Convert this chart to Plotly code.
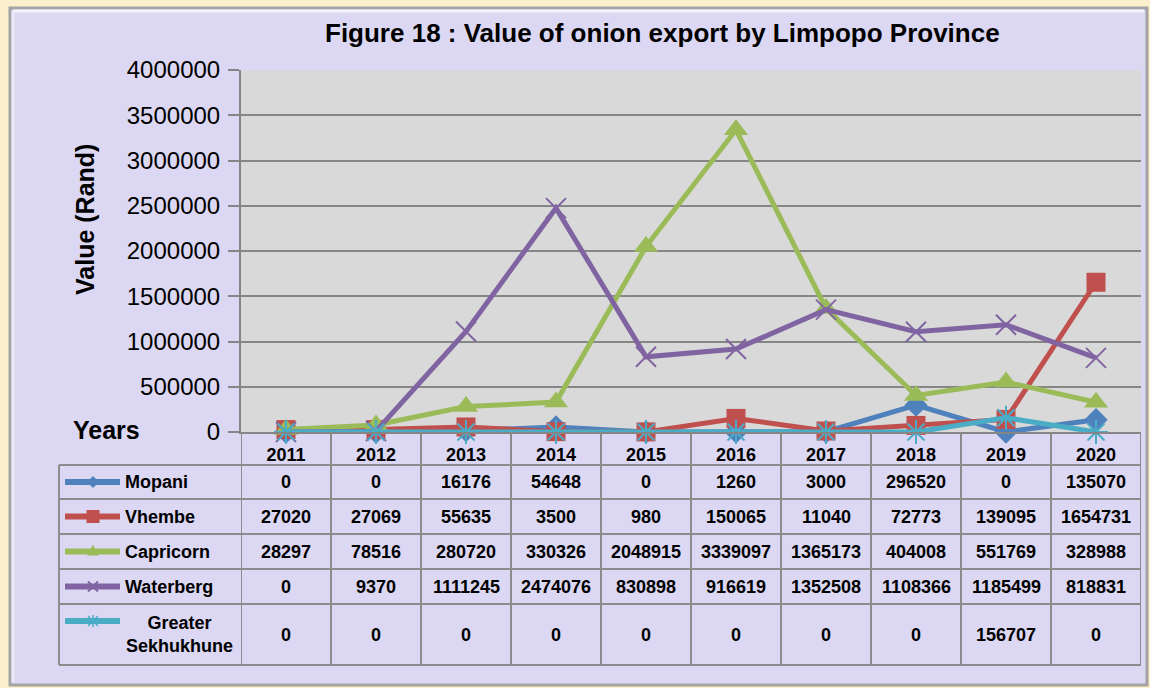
import plotly.graph_objects as go

# ---------------- data ----------------
years = ['2011', '2012', '2013', '2014', '2015', '2016', '2017', '2018', '2019', '2020']
mopani = [0, 0, 16176, 54648, 0, 1260, 3000, 296520, 0, 135070]
vhembe = [27020, 27069, 55635, 3500, 980, 150065, 11040, 72773, 139095, 1654731]
capricorn = [28297, 78516, 280720, 330326, 2048915, 3339097, 1365173, 404008, 551769, 328988]
waterberg = [0, 9370, 1111245, 2474076, 830898, 916619, 1352508, 1108366, 1185499, 818831]
sekhukhune = [0, 0, 0, 0, 0, 0, 0, 0, 156707, 0]
series_names = ['Mopani', 'Vhembe', 'Capricorn', 'Waterberg', 'Greater<br>Sekhukhune']
y_ticks = [0, 500000, 1000000, 1500000, 2000000, 2500000, 3000000, 3500000, 4000000]
title_text = 'Figure 18 : Value of onion export by Limpopo Province'

# ---------------- styles ----------------
series_values = [mopani, vhembe, capricorn, waterberg, sekhukhune]
colors = ['#4f81bd', '#c0504d', '#9bbb59', '#8064a2', '#4bacc6']
symbols = ['diamond', 'square', 'triangle-up', 'x-thin-open', 'asterisk-open']
sizes = [18, 19, 21, 20, 20]

W, H = 1150, 688
L, R, T, B = 241, 1141, 70, 432
PW, PH = R - L, B - T
YMAX = 4000000
FONT = 'Liberation Sans, Arial, sans-serif'
GRID = '#868686'
TABLE = '#8c8c8c'


def px(x):
    return (x - L) / PW


def py(y):
    return (B - y) / PH


def path(points, close=True):
    s = 'M ' + ' L '.join(f'{px(a):.5f},{py(b):.5f}' for a, b in points)
    return s + (' Z' if close else '')


fig = go.Figure()

xs = list(range(len(years)))
for name, vals, c, s, sz in zip(series_names, series_values, colors, symbols, sizes):
    open_sym = s.endswith('open')
    fig.add_trace(go.Scatter(
        x=xs, y=vals, mode='lines+markers', name=name.replace('<br>', ' '),
        line=dict(color=c, width=5),
        marker=dict(symbol=s, size=sz, color=c,
                    line=dict(color=c, width=2 if open_sym else 0)),
        showlegend=False, cliponaxis=False,
    ))

# table geometry (pixels)
header = (432, 465)
rows = [(465, 499), (499, 534), (534, 569), (569, 604), (604, 665)]
table_left = 59
key_x0, key_x1, key_xc = 65, 120, 93

shapes = []
# chart frame
shapes.append(dict(type='rect', xref='paper', yref='paper',
                   x0=px(10), x1=px(1147), y0=py(685), y1=py(8),
                   fillcolor='#dcd8f3', line=dict(color='#a3a3a3', width=3), layer='below'))
shapes.append(dict(type='line', xref='paper', yref='paper',
                   x0=px(13), x1=px(1144), y0=py(11), y1=py(11),
                   line=dict(color='#f4f2fc', width=3), layer='below'))
shapes.append(dict(type='line', xref='paper', yref='paper',
                   x0=px(13), x1=px(13), y0=py(11), y1=py(682),
                   line=dict(color='#ece9f9', width=3), layer='below'))
# plot area
shapes.append(dict(type='rect', xref='paper', yref='paper', x0=0, x1=1, y0=0, y1=1,
                   fillcolor='#d9d9d9', line=dict(width=0), layer='below'))
# table horizontal lines
for yy in [rows[0][0]] + [r[1] for r in rows]:
    shapes.append(dict(type='line', xref='paper', yref='paper',
                       x0=px(table_left), x1=px(R), y0=py(yy), y1=py(yy),
                       line=dict(color=TABLE, width=2), layer='above'))
# table vertical lines
shapes.append(dict(type='line', xref='paper', yref='paper',
                   x0=px(table_left), x1=px(table_left), y0=py(rows[0][0]), y1=py(rows[-1][1]),
                   line=dict(color=TABLE, width=2), layer='above'))
for k in range(len(years) + 1):
    shapes.append(dict(type='line', xref='x', yref='paper',
                       x0=k - 0.5, x1=k - 0.5, y0=py(header[0]), y1=py(rows[-1][1]),
                       line=dict(color=TABLE, width=2), layer='above'))


def key_marker(sym, cx, cy, c):
    """Legend-key glyph drawn as a paper-space shape around pixel centre (cx, cy)."""
    out = []
    if sym == 'diamond':
        r = 6
        out.append(dict(type='path', path=path([(cx, cy - r), (cx + r, cy), (cx, cy + r), (cx - r, cy)]),
                        fillcolor=c, line=dict(width=0)))
    elif sym == 'square':
        r = 6.5
        out.append(dict(type='path', path=path([(cx - r, cy - r), (cx + r, cy - r), (cx + r, cy + r), (cx - r, cy + r)]),
                        fillcolor=c, line=dict(width=0)))
    elif sym == 'triangle-up':
        r = 6
        out.append(dict(type='path', path=path([(cx, cy - r - 1), (cx + r, cy + r - 2), (cx - r, cy + r - 2)]),
                        fillcolor=c, line=dict(width=0)))
    elif sym == 'x-thin-open':
        r = 5
        out.append(dict(type='path', path=path([(cx - r, cy - r), (cx + r, cy + r)], close=False),
                        line=dict(color=c, width=2)))
        out.append(dict(type='path', path=path([(cx + r, cy - r), (cx - r, cy + r)], close=False),
                        line=dict(color=c, width=2)))
    else:  # asterisk
        r = 5
        for a, b in [((cx - r, cy - r), (cx + r, cy + r)), ((cx + r, cy - r), (cx - r, cy + r)),
                     ((cx, cy - r - 1), (cx, cy + r + 1))]:
            out.append(dict(type='path', path=path([a, b], close=False),
                            line=dict(color=c, width=1.5)))
    for o in out:
        o.update(xref='paper', yref='paper', layer='above')
    return out


annotations = []
# legend keys + labels + values
for i, (name, vals, c, s) in enumerate(zip(series_names, series_values, colors, symbols)):
    r0, r1 = rows[i]
    yc = (r0 + r1) / 2
    key_y = yc if i < 4 else 621
    shapes.append(dict(type='line', xref='paper', yref='paper',
                       x0=px(key_x0), x1=px(key_x1), y0=py(key_y), y1=py(key_y),
                       line=dict(color=c, width=6), layer='above'))
    shapes.extend(key_marker(s, key_xc, key_y, c))
    if i < 4:
        annotations.append(dict(xref='paper', yref='paper', x=px(123), y=py(yc),
                                xanchor='left', yanchor='middle', text=name, showarrow=False,
                                font=dict(family=FONT, size=18, color='black', weight='bold')))
    else:
        annotations.append(dict(xref='paper', yref='paper', x=px(179), y=py(yc),
                                xanchor='center', yanchor='middle', text=name, showarrow=False,
                                align='center',
                                font=dict(family=FONT, size=18, color='black', weight='bold')))
    for j, v in enumerate(vals):
        annotations.append(dict(xref='x', yref='paper', x=j, y=py(yc),
                                xanchor='center', yanchor='middle', text=str(v), showarrow=False,
                                font=dict(family=FONT, size=18, color='black', weight='bold')))

# axis titles
annotations.append(dict(xref='paper', yref='paper', x=px(85), y=py(220), text='Value (Rand)',
                        textangle=-90, showarrow=False, xanchor='center', yanchor='middle',
                        font=dict(family=FONT, size=25, color='black', weight='bold')))
annotations.append(dict(xref='paper', yref='paper', x=px(71), y=py(430), text='Years',
                        showarrow=False, xanchor='left', yanchor='middle',
                        font=dict(family=FONT, size=25, color='black', weight='bold')))
annotations.append(dict(xref='paper', yref='paper', x=px(662), y=py(33), text=title_text,
                        showarrow=False, xanchor='center', yanchor='middle',
                        font=dict(family=FONT, size=26, color='black', weight='bold')))

fig.update_layout(
    width=W, height=H,
    margin=dict(l=L, r=W - R, t=T, b=H - B, pad=0),
    paper_bgcolor='#fcefcb',
    plot_bgcolor='rgba(0,0,0,0)',
    shapes=shapes,
    annotations=annotations,
    xaxis=dict(range=[-0.5, 9.5], tickvals=xs, ticktext=years, showgrid=False,
               zeroline=False, showline=True, linecolor=GRID, linewidth=2, ticks='',
               tickfont=dict(family=FONT, size=18, color='black', weight='bold'),
               ticklabelstandoff=5, fixedrange=True),
    yaxis=dict(range=[0, YMAX], tickvals=y_ticks, ticktext=[str(t) for t in y_ticks],
               showgrid=True, gridcolor=GRID, gridwidth=2, zeroline=False,
               showline=True, linecolor=GRID, linewidth=2, ticks='outside', ticklen=11,
               tickcolor=GRID, tickwidth=2,
               tickfont=dict(family=FONT, size=24, color='black'),
               ticklabelstandoff=3, fixedrange=True),
    hovermode=False,
)

fig.write_html('out.html', config={'displayModeBar': False},
               post_script="document.body.style.margin='0';document.body.style.overflow='hidden';")
